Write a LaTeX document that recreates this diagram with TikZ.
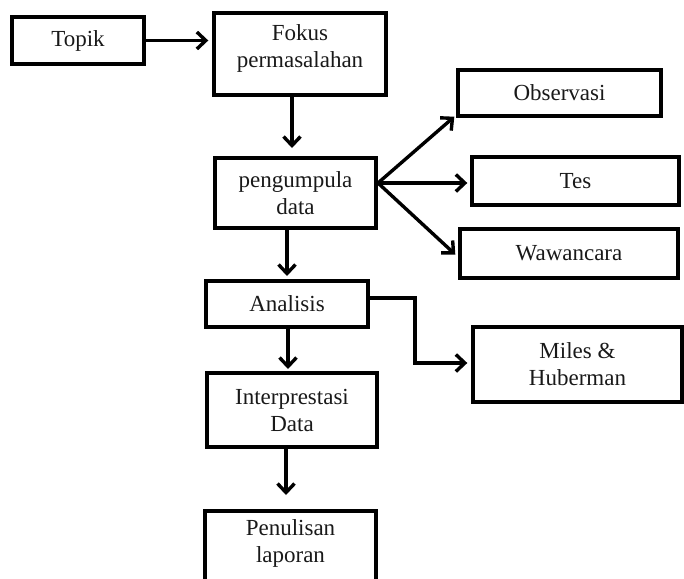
\documentclass[tikz,border=0pt]{standalone}
\usepackage{fontspec}
\setmainfont{Liberation Serif}
\usetikzlibrary{arrows.meta}
\begin{document}
\begin{tikzpicture}[x=1pt,y=-1pt,
  box/.style={draw=black, line width=3.4pt, inner sep=0pt, align=center,
    font=\fontsize{23}{27}\selectfont, text=black!90},
  conn/.style={draw=black, line width=3.4pt, -{Straight Barb[length=9pt,width=17pt,line width=3.4pt]}}]
\useasboundingbox (0,0) rectangle (684,578);
\clip (0,0) rectangle (684,578);
\node[box, minimum width=132pt, minimum height=47pt] (topik) at (78,40.5) {Topik};
\node[box, minimum width=172pt, minimum height=82pt] (fokus) at (300,54) {Fokus\\permasalahan\\[-12pt]};
\node[box, minimum width=161pt, minimum height=70pt] (kumpul) at (295.5,193) {pengumpula\\data};
\node[box, minimum width=203pt, minimum height=46pt] (obs) at (559.5,93) {Observasi};
\node[box, minimum width=207pt, minimum height=48pt] (tes) at (575.5,181) {Tes};
\node[box, minimum width=218pt, minimum height=49pt] (waw) at (569,253.5) {Wawancara};
\node[box, minimum width=162pt, minimum height=46pt] (anal) at (287,304) {Analisis};
\node[box, minimum width=209pt, minimum height=75pt] (miles) at (577.5,364.5) {Miles \&\\Huberman};
\node[box, minimum width=170pt, minimum height=74pt] (inter) at (292,410) {Interprestasi\\Data};
\node[box, minimum width=171pt, minimum height=90pt] (tulis) at (290.5,556) {Penulisan\\laporan\\[3pt]};
\coordinate (k0) at (378,183);
\coordinate (bend1) at (415,298);
\coordinate (bend2) at (415,363);
\draw[conn] (topik.east) -- ([xshift=-4pt]fokus.west |- topik.east);
\draw[conn] (fokus.south -| 292,0) -- (292,148);
\draw[conn] (k0) -- ([xshift=-2pt,yshift=1pt]obs.south west);
\draw[conn] (k0) -- ([xshift=-3pt]tes.west |- k0);
\draw[conn] (k0) -- ([xshift=-3pt,yshift=-1pt]waw.west);
\draw[conn] (kumpul.south -| 287,0) -- (287,276);
\draw[conn] (anal.east |- bend1) -- (bend1) -- (bend2) -- ([xshift=-4pt]miles.west |- bend2);
\draw[conn] (anal.south -| 288,0) -- (288,369);
\draw[conn] (inter.south -| 286,0) -- (286,495);
\end{tikzpicture}
\end{document}
